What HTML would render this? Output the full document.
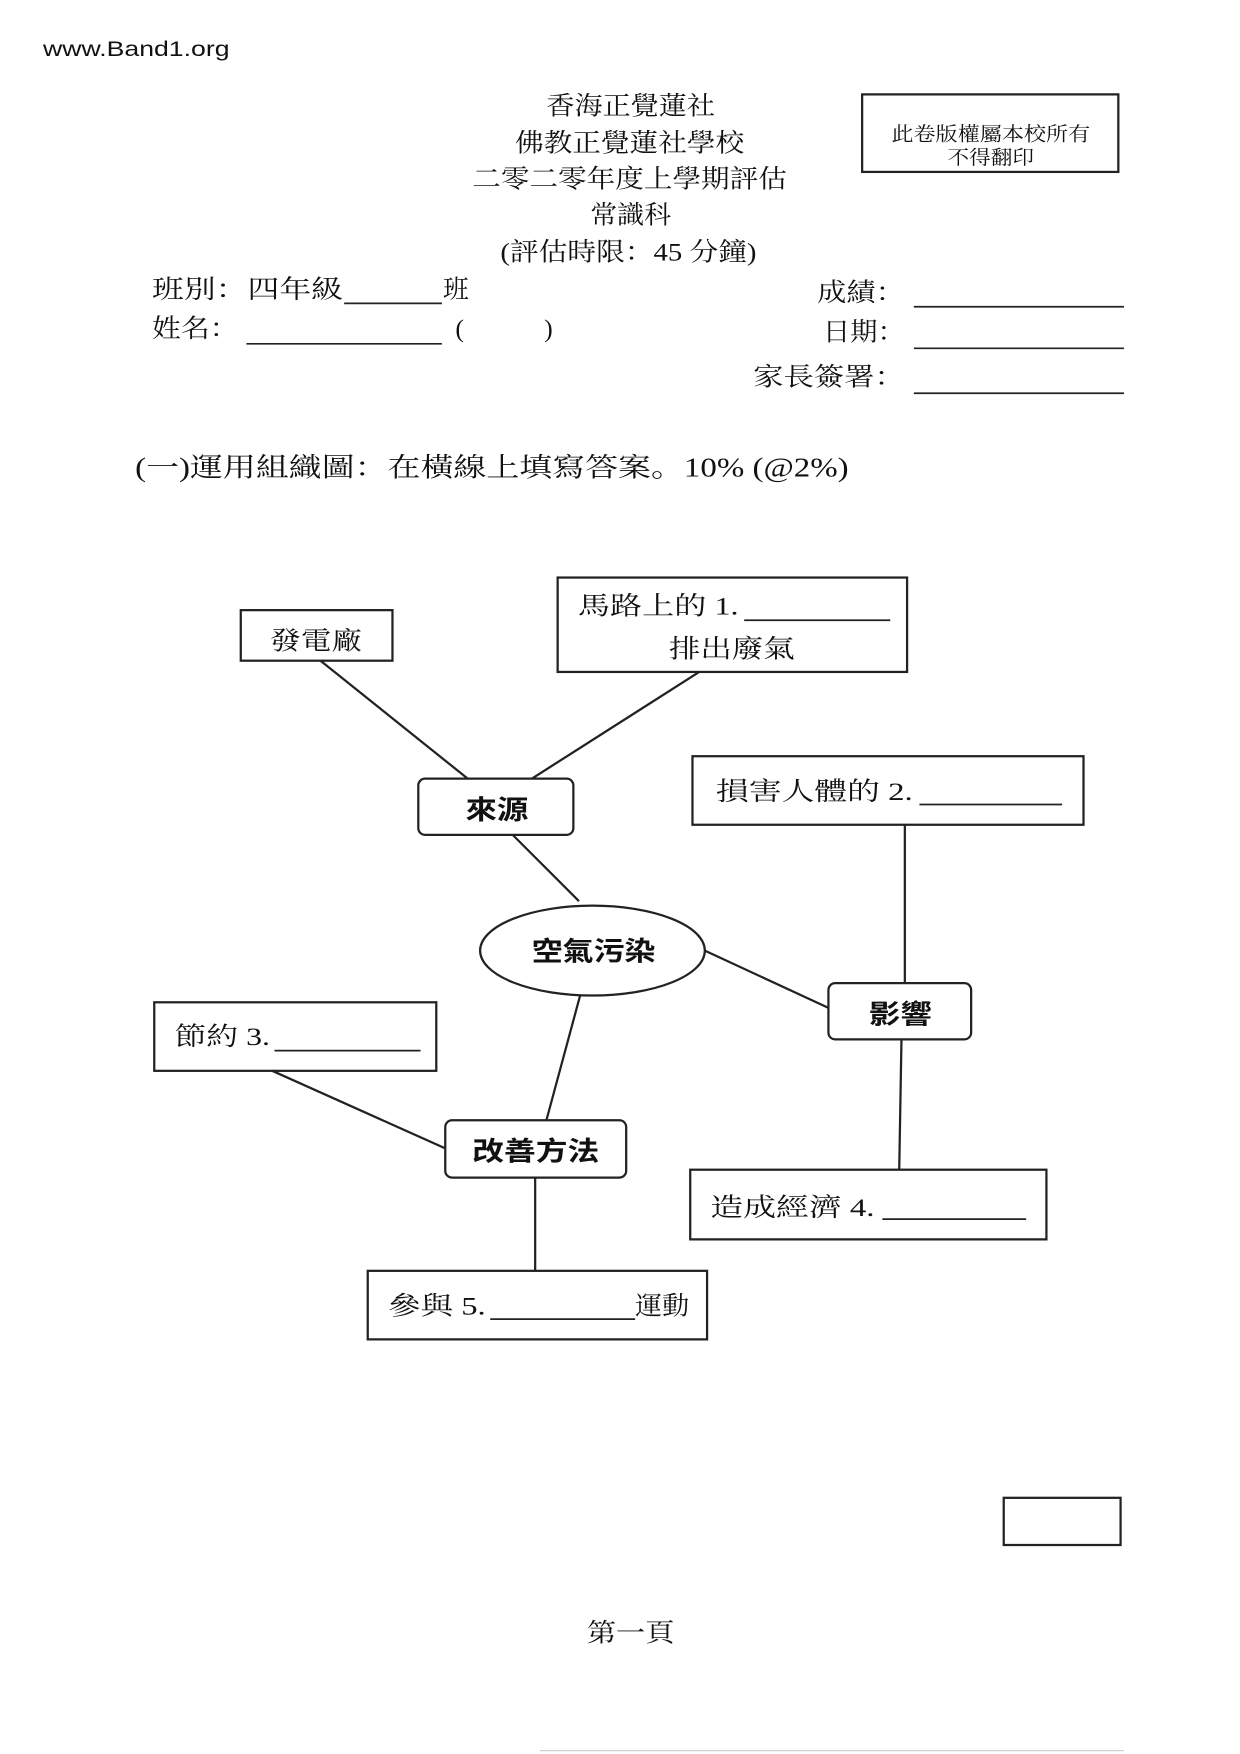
<!DOCTYPE html>
<html><head><meta charset="utf-8"><style>
html,body{margin:0;padding:0;background:#fff;}
svg{display:block;}
text{font-family:"Liberation Serif","Noto Serif CJK SC","Noto Sans CJK TC",serif;fill:#111;}
.s{font-family:"Liberation Sans","Noto Sans CJK TC",sans-serif;}
.b{font-weight:bold;font-family:"Liberation Sans","Noto Sans CJK TC",sans-serif;}
</style></head><body>
<svg width="1240" height="1754" viewBox="0 0 1103 1561" xmlns="http://www.w3.org/2000/svg">
<rect width="1103" height="1561" fill="#fff"/>
<text x="38" y="50" font-size="19" class="s" textLength="166" lengthAdjust="spacingAndGlyphs">www.Band1.org</text>
<g font-size="23" lengthAdjust="spacingAndGlyphs">
<text x="486" y="102" textLength="150" lengthAdjust="spacingAndGlyphs">香海正覺蓮社</text>
<text x="458" y="135" textLength="204" lengthAdjust="spacingAndGlyphs">佛教正覺蓮社學校</text>
<text x="420" y="167" textLength="280" lengthAdjust="spacingAndGlyphs">二零二零年度上學期評估</text>
<text x="525" y="199" textLength="72" lengthAdjust="spacingAndGlyphs">常識科</text>
<text x="445" y="232" textLength="228" lengthAdjust="spacingAndGlyphs">(評估時限：45 分鐘)</text>
</g>
<rect x="767" y="84" width="228" height="69" fill="none" stroke="#222" stroke-width="2"/>
<text x="793" y="125" font-size="17" textLength="177" lengthAdjust="spacingAndGlyphs">此卷版權屬本校所有</text>
<text x="843" y="146" font-size="17" textLength="77" lengthAdjust="spacingAndGlyphs">不得翻印</text>
<g font-size="23">
<text x="135" y="265" textLength="170" lengthAdjust="spacingAndGlyphs">班別：四年級</text>
<line x1="306" y1="270" x2="393" y2="270" stroke="#222" stroke-width="1.5"/>
<text x="394" y="265">班</text>
<text x="135" y="300" textLength="77" lengthAdjust="spacingAndGlyphs">姓名：</text>
<line x1="219" y1="306" x2="393" y2="306" stroke="#222" stroke-width="1.5"/>
<text x="405" y="300">(</text><text x="484" y="300">)</text>
<text x="727" y="268" textLength="78" lengthAdjust="spacingAndGlyphs">成績：</text>
<line x1="813" y1="273" x2="1000" y2="273" stroke="#222" stroke-width="1.5"/>
<text x="732" y="303" textLength="73" lengthAdjust="spacingAndGlyphs">日期：</text>
<line x1="813" y1="310" x2="1000" y2="310" stroke="#222" stroke-width="1.5"/>
<text x="670" y="343" textLength="135" lengthAdjust="spacingAndGlyphs">家長簽署：</text>
<line x1="813" y1="350" x2="1000" y2="350" stroke="#222" stroke-width="1.5"/>
</g>
<text x="120" y="424" font-size="24" textLength="635" lengthAdjust="spacingAndGlyphs">(一)運用組織圖：在橫線上填寫答案。10% (@2%)</text>
<g stroke="#222" stroke-width="2" fill="none">
<line x1="285" y1="588" x2="416" y2="693"/>
<line x1="622" y1="598" x2="473" y2="693"/>
<line x1="456" y1="743" x2="515" y2="802"/>
<line x1="627" y1="846" x2="737" y2="897"/>
<line x1="805" y1="734" x2="805" y2="875"/>
<line x1="802" y1="925" x2="800" y2="1041"/>
<line x1="516" y1="886" x2="486" y2="997"/>
<line x1="242" y1="953" x2="396" y2="1022"/>
<line x1="476" y1="1048" x2="476" y2="1131"/>
<rect x="214" y="543" width="135" height="45"/>
<rect x="496" y="514" width="311" height="84"/>
<rect x="372" y="693" width="138" height="50" rx="6"/>
<rect x="616" y="673" width="348" height="61"/>
<ellipse cx="527" cy="846" rx="100" ry="40"/>
<rect x="737" y="875" width="127" height="50" rx="6"/>
<rect x="137" y="892" width="251" height="61"/>
<rect x="396" y="997" width="161" height="51" rx="6"/>
<rect x="614" y="1041" width="317" height="62"/>
<rect x="327" y="1131" width="302" height="61"/>
<rect x="893" y="1333" width="104" height="42"/>
</g>
<g font-size="23">
<text x="240" y="578" textLength="82" lengthAdjust="spacingAndGlyphs">發電廠</text>
<text x="514" y="547" textLength="143" lengthAdjust="spacingAndGlyphs">馬路上的 1.</text>
<line x1="662" y1="552" x2="792" y2="552" stroke="#222" stroke-width="1.5"/>
<text x="595" y="585" textLength="112" lengthAdjust="spacingAndGlyphs">排出廢氣</text>
<text x="637" y="712" textLength="175" lengthAdjust="spacingAndGlyphs">損害人體的 2.</text>
<line x1="818" y1="716" x2="945" y2="716" stroke="#222" stroke-width="1.5"/>
<text x="155" y="930" textLength="85" lengthAdjust="spacingAndGlyphs">節約 3.</text>
<line x1="244" y1="935" x2="374" y2="935" stroke="#222" stroke-width="1.5"/>
<text x="632" y="1082" textLength="146" lengthAdjust="spacingAndGlyphs">造成經濟 4.</text>
<line x1="785" y1="1085" x2="913" y2="1085" stroke="#222" stroke-width="1.5"/>
<text x="345" y="1170" textLength="87" lengthAdjust="spacingAndGlyphs">參與 5.</text>
<line x1="436" y1="1174" x2="565" y2="1174" stroke="#222" stroke-width="1.5"/>
<text x="565" y="1170" textLength="48" lengthAdjust="spacingAndGlyphs">運動</text>
</g>
<g font-size="24">
<text x="414" y="729" class="b" textLength="56" lengthAdjust="spacingAndGlyphs">來源</text>
<text x="473" y="855" class="b" textLength="110" lengthAdjust="spacingAndGlyphs">空氣污染</text>
<text x="773" y="911" class="b" textLength="56" lengthAdjust="spacingAndGlyphs">影響</text>
<text x="420" y="1033" class="b" textLength="113" lengthAdjust="spacingAndGlyphs">改善方法</text>
</g>
<text x="522" y="1461" font-size="23" textLength="78" lengthAdjust="spacingAndGlyphs">第一頁</text>
<line x1="480" y1="1558" x2="1000" y2="1558" stroke="#ccc" stroke-width="1"/>
</svg>
</body></html>
